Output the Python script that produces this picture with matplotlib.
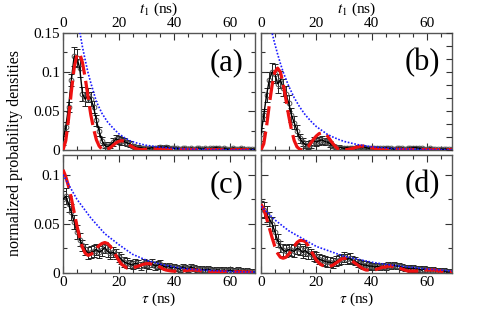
import matplotlib
matplotlib.use("Agg")
import matplotlib.pyplot as plt
from matplotlib.ticker import MultipleLocator

plt.rcParams['font.family'] = ['Liberation Serif', 'DejaVu Serif']
plt.rcParams['mathtext.fontset'] = 'stix'

tau = list(range(70))

# ---------- panel (a) ----------
a_data = [0.012, 0.03, 0.055, 0.09, 0.12, 0.118, 0.105, 0.072, 0.065, 0.07,
          0.066, 0.055, 0.038, 0.024, 0.012, 0.006, 0.004, 0.006, 0.01, 0.014,
          0.013, 0.012, 0.011, 0.009, 0.008, 0.005, 0.004, 0.003, 0.003, 0.002,
          0.002, 0.002, 0.003, 0.002, 0.003, 0.004, 0.003, 0.004, 0.003, 0.002,
          0.002, 0.002, 0.001, 0.002, 0.002, 0.001, 0.002, 0.001, 0.002, 0.002,
          0.001, 0.002, 0.001, 0.002, 0.002, 0.003, 0.002, 0.001, 0.002, 0.001,
          0.001, 0.002, 0.001, 0.001, 0.002, 0.001, 0.001, 0.001, 0.001, 0.001]
a_err = [0.006, 0.006, 0.006, 0.008, 0.012, 0.012, 0.012, 0.009, 0.009, 0.009,
         0.009, 0.008, 0.007, 0.006, 0.005, 0.004, 0.004, 0.004, 0.005, 0.005,
         0.005, 0.005, 0.004, 0.004, 0.004, 0.003, 0.003, 0.003, 0.002, 0.002] + [0.002] * 40
a_red = [0.0, 0.012, 0.04, 0.075, 0.105, 0.122, 0.124, 0.112, 0.092, 0.068,
         0.045, 0.027, 0.013, 0.005, 0.001, 0.0, 0.001, 0.003, 0.006, 0.009,
         0.011, 0.012, 0.011, 0.009, 0.006, 0.004, 0.002, 0.001, 0.0005, 0.0005,
         0.001, 0.001, 0.0012, 0.0012, 0.0012, 0.001, 0.001, 0.001, 0.0008, 0.0008,
         0.0008, 0.0007, 0.0007, 0.0007, 0.0006, 0.0006, 0.0006, 0.0006, 0.0005, 0.0005,
         0.0005, 0.0005, 0.0005, 0.0004, 0.0004, 0.0004, 0.0004, 0.0004, 0.0004, 0.0003,
         0.0003, 0.0003, 0.0003, 0.0003, 0.0003, 0.0003, 0.0003, 0.0003, 0.0003, 0.0003]
a_blue_t = [5, 6, 7, 8, 9, 10, 12, 14, 16, 18, 20, 22, 24, 26, 28, 30, 35, 40, 45, 50, 60, 69]
a_blue = [0.176, 0.152, 0.132, 0.115, 0.099, 0.086, 0.062, 0.047, 0.036, 0.028, 0.021,
          0.016, 0.012, 0.0095, 0.0075, 0.006, 0.0035, 0.002, 0.0012, 0.0007, 0.0003, 0.0001]

# ---------- panel (b) ----------
b_data = [0.02, 0.045, 0.07, 0.09, 0.1, 0.098, 0.085, 0.09, 0.08, 0.072,
          0.06, 0.045, 0.035, 0.025, 0.015, 0.01, 0.007, 0.006, 0.008, 0.012,
          0.01, 0.012, 0.013, 0.011, 0.01, 0.008, 0.005, 0.004, 0.003, 0.003,
          0.002, 0.003, 0.002, 0.003, 0.003, 0.004, 0.003, 0.004, 0.003, 0.002,
          0.003, 0.002, 0.003, 0.002, 0.002, 0.003, 0.002, 0.002, 0.001, 0.002,
          0.002, 0.002, 0.001, 0.002, 0.002, 0.003, 0.003, 0.002, 0.002, 0.001,
          0.001, 0.002, 0.001, 0.001, 0.001, 0.001, 0.001, 0.001, 0.001, 0.001]
b_err = [0.008, 0.008, 0.009, 0.01, 0.012, 0.012, 0.012, 0.011, 0.011, 0.01,
         0.01, 0.009, 0.008, 0.007, 0.006, 0.005, 0.005, 0.005, 0.005, 0.005,
         0.005, 0.005, 0.005, 0.004, 0.004, 0.004, 0.003, 0.003, 0.003, 0.002] + [0.002] * 40
b_red = [0.0, 0.008, 0.03, 0.058, 0.083, 0.1, 0.105, 0.1, 0.085, 0.065,
         0.044, 0.026, 0.012, 0.004, 0.001, 0.0, 0.001, 0.004, 0.009, 0.014,
         0.018, 0.021, 0.022, 0.021, 0.018, 0.013, 0.008, 0.004, 0.001, 0.0,
         0.0, 0.0005, 0.001, 0.002, 0.003, 0.004, 0.005, 0.005, 0.005, 0.004,
         0.003, 0.002, 0.001, 0.0005, 0.0005, 0.0006, 0.0008, 0.001, 0.001, 0.001,
         0.0008, 0.0006, 0.0005, 0.0005, 0.0005, 0.0006, 0.0007, 0.0007, 0.0006, 0.0005,
         0.0004, 0.0004, 0.0004, 0.0004, 0.0004, 0.0003, 0.0003, 0.0003, 0.0003, 0.0003]
b_blue_t = [3, 4, 5, 6, 7, 8, 10, 12, 14, 16, 18, 20, 22, 24, 26, 28, 30, 35, 40, 45, 50, 55, 60, 69]
b_blue = [0.166, 0.15, 0.136, 0.123, 0.111, 0.1, 0.082, 0.067, 0.055, 0.045, 0.037,
          0.030, 0.025, 0.020, 0.0166, 0.0136, 0.011, 0.0068, 0.0041, 0.0025, 0.0015,
          0.0009, 0.0006, 0.0002]

# ---------- panel (c) ----------
c_data = [0.075, 0.078, 0.07, 0.062, 0.052, 0.042, 0.034, 0.028, 0.024, 0.02,
          0.021, 0.022, 0.024, 0.021, 0.023, 0.026, 0.022, 0.02, 0.021, 0.019,
          0.016, 0.014, 0.011, 0.01, 0.009, 0.008, 0.01, 0.009, 0.007, 0.01,
          0.009, 0.008, 0.01, 0.007, 0.008, 0.009, 0.007, 0.006, 0.007, 0.005,
          0.006, 0.005, 0.004, 0.006, 0.005, 0.004, 0.006, 0.005, 0.004, 0.003,
          0.004, 0.003, 0.004, 0.003, 0.002, 0.003, 0.003, 0.002, 0.003, 0.002,
          0.003, 0.002, 0.002, 0.003, 0.002, 0.001, 0.002, 0.001, 0.001, 0.001]
c_err = [0.008, 0.008, 0.008, 0.008, 0.007, 0.007, 0.007, 0.006, 0.006, 0.006,
         0.006, 0.006, 0.006, 0.006, 0.006, 0.006, 0.006, 0.006, 0.005, 0.005,
         0.005, 0.005, 0.005, 0.005, 0.004, 0.004, 0.004, 0.004, 0.004, 0.004,
         0.004, 0.004, 0.004, 0.004, 0.004, 0.004, 0.003, 0.003, 0.003, 0.003] + [0.003] * 30
c_red = [0.105, 0.098, 0.088, 0.076, 0.062, 0.048, 0.036, 0.026, 0.02, 0.018,
         0.019, 0.021, 0.025, 0.028, 0.030, 0.031, 0.030, 0.027, 0.023, 0.018,
         0.013, 0.009, 0.007, 0.005, 0.005, 0.005, 0.006, 0.007, 0.008, 0.009,
         0.0095, 0.0095, 0.009, 0.008, 0.007, 0.006, 0.004, 0.003, 0.0025, 0.002,
         0.0018, 0.0018, 0.002, 0.0022, 0.0025, 0.0028, 0.003, 0.003, 0.0028, 0.0025,
         0.002, 0.0015, 0.001, 0.001, 0.001, 0.001, 0.0011, 0.0012, 0.0012, 0.0012,
         0.0012, 0.0013, 0.0013, 0.0013, 0.0012, 0.0011, 0.001, 0.0009, 0.0007, 0.0006]
c_blue_t = [0, 5, 10, 15, 20, 25, 30, 35, 40, 45, 50, 60, 69]
c_blue = [0.1, 0.075, 0.056, 0.04, 0.029, 0.019, 0.013, 0.009, 0.006, 0.004, 0.003, 0.0015, 0.001]

# ---------- panel (d) ----------
d_data = [0.065, 0.064, 0.06, 0.055, 0.05, 0.042, 0.033, 0.027, 0.023, 0.022,
          0.024, 0.023, 0.022, 0.025, 0.024, 0.021, 0.023, 0.02, 0.019, 0.017,
          0.016, 0.014, 0.013, 0.012, 0.011, 0.011, 0.01, 0.012, 0.013, 0.014,
          0.016, 0.014, 0.015, 0.013, 0.012, 0.01, 0.009, 0.008, 0.008, 0.007,
          0.007, 0.006, 0.007, 0.006, 0.007, 0.006, 0.008, 0.007, 0.008, 0.007,
          0.007, 0.006, 0.005, 0.005, 0.004, 0.005, 0.004, 0.004, 0.003, 0.004,
          0.003, 0.003, 0.003, 0.002, 0.002, 0.002, 0.002, 0.001, 0.001, 0.001]
d_err = [0.008, 0.008, 0.008, 0.007, 0.007, 0.007, 0.007, 0.006, 0.006, 0.006,
         0.006, 0.006, 0.006, 0.006, 0.006, 0.006, 0.006, 0.006, 0.005, 0.005,
         0.005, 0.005, 0.005, 0.005, 0.005, 0.005, 0.005, 0.005, 0.005, 0.005,
         0.005, 0.005, 0.005, 0.004, 0.004, 0.004, 0.004, 0.004, 0.004, 0.004] + [0.003] * 30
d_red = [0.07, 0.065, 0.056, 0.046, 0.036, 0.027, 0.02, 0.016, 0.015, 0.016,
         0.019, 0.023, 0.027, 0.031, 0.033, 0.033, 0.032, 0.028, 0.023, 0.018,
         0.013, 0.01, 0.008, 0.007, 0.006, 0.007, 0.008, 0.01, 0.012, 0.014,
         0.015, 0.015, 0.014, 0.012, 0.01, 0.008, 0.006, 0.004, 0.003, 0.003,
         0.003, 0.003, 0.004, 0.005, 0.006, 0.006, 0.007, 0.007, 0.006, 0.006,
         0.005, 0.004, 0.003, 0.002, 0.002, 0.002, 0.002, 0.002, 0.003, 0.003,
         0.003, 0.003, 0.003, 0.003, 0.002, 0.002, 0.001, 0.001, 0.001, 0.001]
d_blue_t = [0, 5, 10, 15, 20, 25, 30, 35, 40, 45, 50, 55, 60, 65, 69]
d_blue = [0.068, 0.054, 0.043, 0.035, 0.027, 0.022, 0.017, 0.014, 0.011, 0.0088,
          0.007, 0.0056, 0.004, 0.003, 0.002]

panels = [
    ("(a)", a_data, a_err, a_red, a_blue_t, a_blue),
    ("(b)", b_data, b_err, b_red, b_blue_t, b_blue),
    ("(c)", c_data, c_err, c_red, c_blue_t, c_blue),
    ("(d)", d_data, d_err, d_red, d_blue_t, d_blue),
]

W, H = 491, 309
fig = plt.figure(figsize=(W / 100, H / 100), dpi=100)

def box(x0, y0, x1, y1):
    return [x0 / W, 1 - y1 / H, (x1 - x0) / W, (y1 - y0) / H]

rects = [box(63, 33, 255, 150), box(261, 33, 452, 150),
         box(63, 155, 255, 273), box(261, 155, 452, 273)]
ylims = [0.15, 0.15, 0.12, 0.12]
spine_col = '#555555'

for i, (lab, dat, err, red, bt, bv) in enumerate(panels):
    ax = fig.add_axes(rects[i])
    ax.errorbar(tau, dat, yerr=err, fmt='o', ms=3.4, mfc='none', mec='#555555',
                mew=0.7, ecolor='#222222', elinewidth=0.7, capsize=2, capthick=0.7, zorder=2)
    ax.plot(tau, dat, color='black', lw=1.0, zorder=3)
    ax.plot(tau, red, color='#ee1111', lw=2.3, ls=(0, (6, 2)), zorder=4)
    ax.plot(bt, bv, color='#1a1aff', lw=1.2, ls=(0, (1, 1)), zorder=5)
    ax.set_xlim(0, 69)
    ax.set_ylim(0, ylims[i])
    ax.xaxis.set_major_locator(MultipleLocator(20))
    ax.xaxis.set_minor_locator(MultipleLocator(5))
    ax.yaxis.set_major_locator(MultipleLocator(0.05))
    ax.yaxis.set_minor_locator(MultipleLocator(0.025))
    ax.yaxis.set_major_formatter(plt.FuncFormatter(lambda v, p: ('%g' % round(v, 3))))
    for s in ax.spines.values():
        s.set_color(spine_col)
        s.set_linewidth(1.0)
    ax.tick_params(which='both', direction='in', top=True, bottom=True,
                   left=True, right=(i != 1), color='#333333', labelsize=11, pad=2)
    ax.tick_params(which='major', length=5, width=0.8)
    ax.tick_params(which='minor', length=3, width=0.8)
    top = i < 2
    ax.tick_params(labelbottom=not top, labeltop=top, labelleft=(i % 2 == 0))
    if top:
        ax.xaxis.set_label_position('top')
        ax.set_xlabel(r'$t_1$ (ns)', fontsize=11, labelpad=3)
    else:
        ax.set_xlabel(r'$\tau$ (ns)', fontsize=11, labelpad=1)
    ax.text(0.94, 0.87, lab, transform=ax.transAxes, ha='right', va='top', fontsize=22)
    if i == 1:
        tw = ax.twinx()
        tw.set_ylim(0, 0.09)
        tw.yaxis.set_major_locator(MultipleLocator(0.01))
        tw.tick_params(which='both', direction='in', length=4, width=0.8,
                       color='#333333', labelright=False)
        for s in tw.spines.values():
            s.set_visible(False)

fig.text(15 / W, 1 - 153 / H, 'normalized probability densities', rotation=90,
         ha='center', va='center', fontsize=11.5)

fig.savefig('out.png', dpi=100)
